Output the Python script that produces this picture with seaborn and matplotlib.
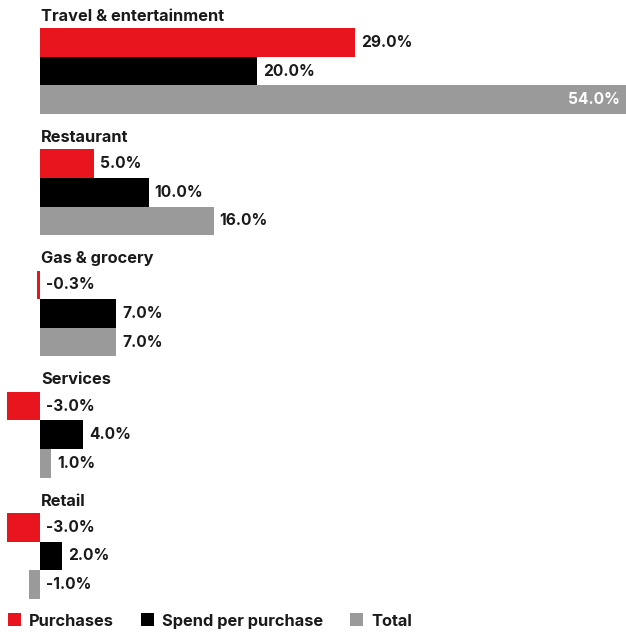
import matplotlib
matplotlib.use("Agg")
import matplotlib.pyplot as plt
import seaborn as sns
import pandas as pd
from matplotlib.patches import Patch

categories = ["Travel & entertainment", "Restaurant", "Gas & grocery", "Services", "Retail"]
series = ["Purchases", "Spend per purchase", "Total"]
purchases = [29.0, 5.0, -0.3, -3.0, -3.0]
spend_per_purchase = [20.0, 10.0, 7.0, 4.0, 2.0]
total = [54.0, 16.0, 7.0, 1.0, -1.0]
colors = ["#E8141E", "#000000", "#9A9A9A"]

values_by_series = [purchases, spend_per_purchase, total]
rows = []
for s, vals in zip(series, values_by_series):
    for c, v in zip(categories, vals):
        rows.append({"category": c, "series": s, "value": v})
df = pd.DataFrame(rows)

sns.set_theme(style="white")
plt.rcParams["font.family"] = ["Inter", "DejaVu Sans"]
TXT = "#1a1a1a"
FS_LAB = 11.8
FS_VAL = 11.2

W, H = 626, 632
fig = plt.figure(figsize=(W / 100, H / 100), dpi=100)
ax = fig.add_axes([0, 0, 1, 1])

group_w = 0.708
sns.barplot(data=df, y="category", x="value", hue="series", order=categories,
            hue_order=series, palette=colors, orient="h", width=group_w, gap=0,
            dodge=True, legend=False, errorbar=None, saturation=1, linewidth=0,
            ax=ax)

# axis geometry (pixels -> data)
px_zero = 40
xr = 54.0
xl = -px_zero * xr / (W - px_zero)
ax.set_xlim(xl, xr)
ux = (xr - xl) / W  # data per px
pitch_px = 121.25
c0_px = 71
ytop = -c0_px / pitch_px
ybot = (H - c0_px) / pitch_px
ax.set_ylim(ybot, ytop)
uy = 1 / pitch_px

ax.axis("off")

bar_h = group_w / 3
for i, cat in enumerate(categories):
    ax.text(0.1, i - group_w / 2 - 12 * uy, cat, ha="left", va="center",
            fontsize=FS_LAB, fontweight="bold", color=TXT)
    for j, vals in enumerate(values_by_series):
        v = vals[i]
        y = i + (j - 1) * bar_h
        lab = f"{v:.1f}%"
        if v >= xr - 5:
            ax.text(v - 6 * ux, y, lab, ha="right", va="center", fontsize=FS_VAL,
                    fontweight="bold", color="white")
        else:
            ax.text(max(v, 0) + 6 * ux, y, lab, ha="left", va="center",
                    fontsize=FS_VAL, fontweight="bold", color=TXT)

handles = [Patch(facecolor=c, edgecolor="none") for c in colors]
fig.legend(handles, series, loc="center left", bbox_to_anchor=(0.012, 1 - 621 / H),
           ncol=3, frameon=False, handlelength=0.8, handleheight=0.85,
           handletextpad=0.5, columnspacing=1.65, borderaxespad=0, borderpad=0,
           prop={"weight": "bold", "size": FS_LAB})
for t in fig.legends[0].get_texts():
    t.set_color(TXT)

fig.savefig("out.png", dpi=100)
